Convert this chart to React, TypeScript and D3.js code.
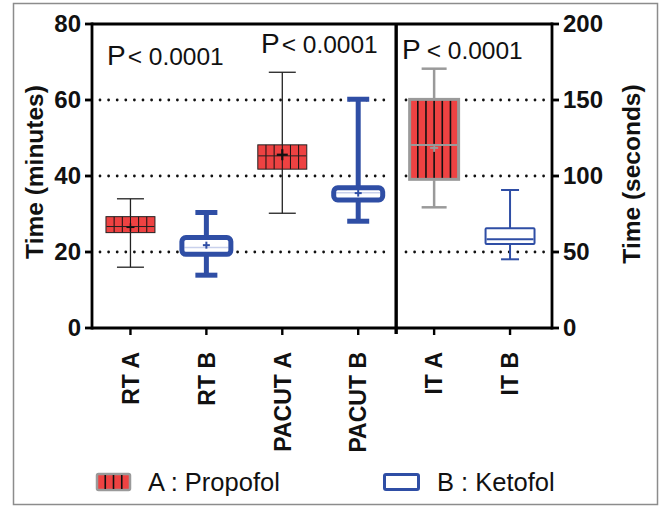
import React from 'react';
import * as d3 from 'd3';

// values (minutes for RT / PACUT, seconds for IT)
const categories = ['RT A', 'RT B', 'PACUT A', 'PACUT B', 'IT A', 'IT B'];
const groups = ['A', 'B', 'A', 'B', 'A', 'B'];
const panels = ['min', 'min', 'min', 'min', 'sec', 'sec'];
const whiskerLow = [16, 13.9, 30.2, 28.1, 79.4, 45.2];
const boxLow = [25.1, 19.4, 41.8, 33.7, 97.8, 55.3];
const medians = [26.7, 21.2, 45.3, 35.6, 120.4, 58.4];
const boxHigh = [29.3, 23.8, 48.2, 36.9, 150.4, 65.6];
const whiskerHigh = [34, 30.4, 67.3, 60.2, 170.6, 90.8];
const means = [26.5, 21.8, 45.6, 35.5, 118.5, 60];
const leftTicks = [0, 20, 40, 60, 80];
const rightTicks = [0, 50, 100, 150, 200];
const pValues = ['< 0.0001', '< 0.0001', '< 0.0001'];
const legendLabels = ['A : Propofol', 'B : Ketofol'];

const W = 659;
const H = 506;
const RED = '#ee4242';
const BLUE = '#2f4ea5';
const GRAY = '#9a9a9a';
const FONT = '"Liberation Sans", Arial, Helvetica, sans-serif';

export default function App() {
  const plotLeft = 92;
  const plotRight = 552;
  const plotTop = 24;
  const plotBottom = 328;

  const x = d3.scaleBand().domain(categories).range([92.5, 548]);
  const yMin = d3.scaleLinear().domain([0, 80]).range([plotBottom, plotTop]);
  const ySec = d3.scaleLinear().domain([0, 200]).range([plotBottom, plotTop]);
  const yOf = (i: number) => (panels[i] === 'min' ? yMin : ySec);
  const boxW = x.bandwidth() * 0.645;
  const divider = x('IT A')!;

  // per group / panel look
  const styleOf = (i: number) => {
    const left = panels[i] === 'min';
    if (groups[i] === 'A' && left)
      return { fill: RED, stroke: '#222', sw: 1, wColor: '#222', wsw: 1.3, cap: 27, med: '#222', medW: 1, plus: '#111', plusSize: i === 0 ? 8 : 11, plusW: i === 0 ? 1.5 : 2.2, pattern: true, rx: 0 };
    if (groups[i] === 'B' && left)
      return { fill: '#fff', stroke: BLUE, sw: 5, wColor: BLUE, wsw: 5, cap: 22, med: '#c9d1ec', medW: 1.6, plus: BLUE, plusSize: 7, plusW: 2, pattern: false, rx: 4 };
    if (groups[i] === 'A')
      return { fill: RED, stroke: GRAY, sw: 3, wColor: GRAY, wsw: 2.5, cap: 25, med: GRAY, medW: 2.2, plus: GRAY, plusSize: 8, plusW: 2, pattern: true, rx: 0 };
    return { fill: '#fff', stroke: BLUE, sw: 2, wColor: BLUE, wsw: 2, cap: 18, med: BLUE, medW: 2, plus: 'none', plusSize: 0, plusW: 0, pattern: false, rx: 1 };
  };

  const gridDots = { stroke: '#111', strokeWidth: 2.8, strokeDasharray: '0 8.6', strokeLinecap: 'round' as const };
  const pPos = [
    { x: 107, y: 65 },
    { x: 261, y: 53 },
    { x: 402, y: 59 },
  ];

  return (
    <svg width={W} height={H} style={{ position: 'absolute', left: 0, top: 0, background: '#fff' }} fontFamily={FONT}>
      <rect x={13.5} y={3.5} width={644} height={501} fill="#fff" stroke="#8c8c8c" strokeWidth={1.5} />

      {/* dotted grid lines */}
      {leftTicks.slice(1, -1).map((t) => (
        <line key={'gl' + t} x1={100} x2={392} y1={yMin(t)} y2={yMin(t)} {...gridDots} />
      ))}
      {rightTicks.slice(1, -1).map((t) => (
        <line key={'gr' + t} x1={406} x2={547} y1={ySec(t)} y2={ySec(t)} {...gridDots} />
      ))}

      {/* boxes */}
      {categories.map((c, i) => {
        const s = styleOf(i);
        const y = yOf(i);
        const cx = x(c)! + x.bandwidth() / 2;
        const x0 = cx - boxW / 2;
        const cols = 6;
        return (
          <g key={c}>
            <line x1={cx} x2={cx} y1={y(whiskerLow[i])} y2={y(whiskerHigh[i])} stroke={s.wColor} strokeWidth={s.wsw} />
            <line x1={cx - s.cap / 2} x2={cx + s.cap / 2} y1={y(whiskerLow[i])} y2={y(whiskerLow[i])} stroke={s.wColor} strokeWidth={s.wsw} />
            <line x1={cx - s.cap / 2} x2={cx + s.cap / 2} y1={y(whiskerHigh[i])} y2={y(whiskerHigh[i])} stroke={s.wColor} strokeWidth={s.wsw} />
            <rect x={x0} y={y(boxHigh[i])} width={boxW} height={y(boxLow[i]) - y(boxHigh[i])} fill={s.fill} rx={s.rx} />
            {s.pattern &&
              d3.range(1, cols).map((k) => (
                <line key={k} x1={x0 + (k * boxW) / cols} x2={x0 + (k * boxW) / cols} y1={y(boxHigh[i])} y2={y(boxLow[i])} stroke="#111" strokeWidth={panels[i] === 'min' ? 1 : 1.6} />
              ))}
            <line x1={x0 + s.sw / 2} x2={x0 + boxW - s.sw / 2} y1={y(medians[i])} y2={y(medians[i])} stroke={s.med} strokeWidth={s.medW} />
            <rect x={x0} y={y(boxHigh[i])} width={boxW} height={y(boxLow[i]) - y(boxHigh[i])} fill="none" stroke={s.stroke} strokeWidth={s.sw} rx={s.rx} />
            {s.plusSize > 0 && (
              <g stroke={s.plus} strokeWidth={s.plusW}>
                <line x1={cx - s.plusSize / 2} x2={cx + s.plusSize / 2} y1={y(means[i])} y2={y(means[i])} />
                <line x1={cx} x2={cx} y1={y(means[i]) - s.plusSize / 2} y2={y(means[i]) + s.plusSize / 2} />
              </g>
            )}
          </g>
        );
      })}

      {/* frame and axes */}
      <g stroke="#000" strokeWidth={2.8} fill="none">
        <line x1={plotLeft} x2={plotRight} y1={plotTop} y2={plotTop} />
        <line x1={plotLeft} x2={plotRight} y1={plotBottom} y2={plotBottom} />
        <line x1={plotLeft} x2={plotLeft} y1={plotTop - 1.4} y2={plotBottom + 1.4} />
        <line x1={plotRight} x2={plotRight} y1={plotTop - 1.4} y2={plotBottom + 1.4} />
        <line x1={divider} x2={divider} y1={plotTop - 1} y2={plotBottom + 6} strokeWidth={3.4} />
        {leftTicks.map((t) => (
          <line key={'lt' + t} x1={plotLeft - 7} x2={plotLeft} y1={yMin(t)} y2={yMin(t)} />
        ))}
        {rightTicks.map((t) => (
          <line key={'rt' + t} x1={plotRight} x2={plotRight + 7} y1={ySec(t)} y2={ySec(t)} />
        ))}
        {categories.map((c) => (
          <line key={'xt' + c} x1={x(c)! + x.bandwidth() / 2} x2={x(c)! + x.bandwidth() / 2} y1={plotBottom} y2={plotBottom + 7} strokeWidth={2.4} />
        ))}
      </g>

      {/* tick labels */}
      <g fontSize={24} fontWeight="bold" fill="#111">
        {leftTicks.map((t) => (
          <text key={'ll' + t} x={plotLeft - 11} y={yMin(t)} dy="0.35em" textAnchor="end">{t}</text>
        ))}
        {rightTicks.map((t) => (
          <text key={'rl' + t} x={plotRight + 11} y={ySec(t)} dy="0.35em" textAnchor="start">{t}</text>
        ))}
      </g>
      <g fontSize={23} fontWeight="bold" fill="#111">
        {categories.map((c) => (
          <text key={'xl' + c} transform={`translate(${x(c)! + x.bandwidth() / 2},${plotBottom + 24}) rotate(-90)`} dy="0.36em" textAnchor="end">{c}</text>
        ))}
      </g>

      {/* axis titles */}
      <text transform={`translate(34,${(plotTop + plotBottom) / 2 - 4}) rotate(-90)`} dy="0.35em" textAnchor="middle" fontSize={24.5} fontWeight="bold" fill="#111">Time (minutes)</text>
      <text transform={`translate(631,${(plotTop + plotBottom) / 2 - 2}) rotate(-90)`} dy="0.35em" textAnchor="middle" fontSize={24.5} fontWeight="bold" fill="#111">Time (seconds)</text>

      {/* p-values */}
      {pValues.map((p, i) => (
        <text key={'p' + i} x={pPos[i].x} y={pPos[i].y} fill="#111">
          <tspan fontSize={28}>P</tspan>
          <tspan fontSize={24.5} dx={i === 2 ? 6 : 2}>{p}</tspan>
        </text>
      ))}

      {/* legend */}
      <g>
        <rect x={97} y={474} width={33} height={16} fill={RED} stroke={GRAY} strokeWidth={2.5} rx={1.5} />
        {d3.range(1, 4).map((k) => (
          <line key={'lg' + k} x1={97 + 8.25 * k} x2={97 + 8.25 * k} y1={475} y2={489} stroke="#111" strokeWidth={1.6} />
        ))}
        <text x={148} y={491} fontSize={25.5} fill="#111">{legendLabels[0]}</text>
        <rect x={384.5} y={474.5} width={34} height={15} fill="#fff" stroke={BLUE} strokeWidth={3} rx={1.5} />
        <text x={437} y={491} fontSize={25.5} fill="#111">{legendLabels[1]}</text>
      </g>
    </svg>
  );
}
